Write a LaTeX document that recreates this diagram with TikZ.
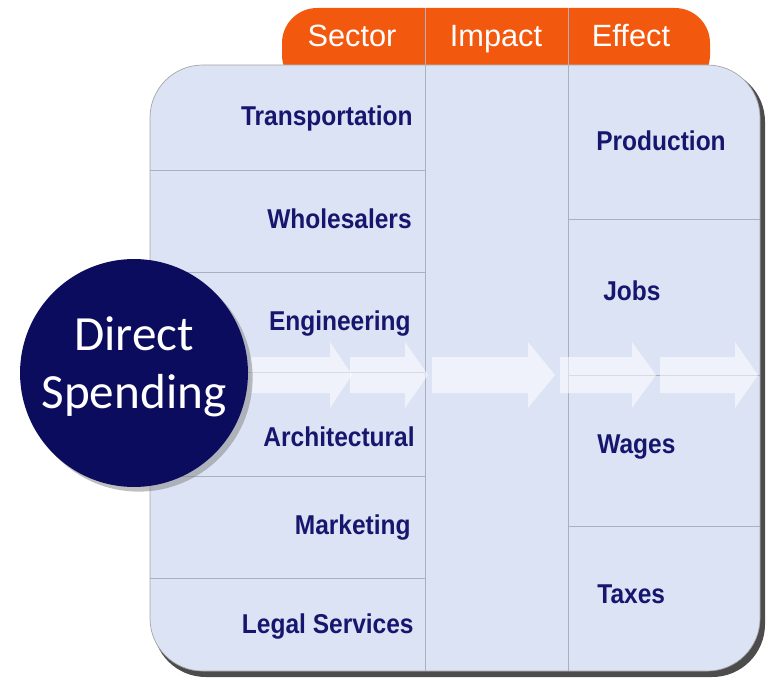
\documentclass[tikz,border=0pt]{standalone}
\usepackage{fontspec}
\setmainfont{Liberation Sans}
\newfontfamily\labelfont[FakeStretch=0.9]{Liberation Sans}
\newfontfamily\circfont{Carlito}
\usepackage{xcolor}
\usetikzlibrary{shadows}
\definecolor{tabred}{HTML}{F2590F}
\definecolor{panelblue}{HTML}{DCE3F4}
\definecolor{navy}{HTML}{0C0C5E}
\definecolor{labelblue}{HTML}{16166E}
\definecolor{gridgray}{HTML}{A9B0BF}

\begin{document}
\begin{tikzpicture}[x=0.02cm,y=-0.02cm,
    sector/.style={anchor=base east,inner sep=0pt,text=labelblue,font=\labelfont\fontsize{15.5}{17}\selectfont\bfseries},
    effect/.style={anchor=base west,inner sep=0pt,text=labelblue,font=\labelfont\fontsize{15.5}{17}\selectfont\bfseries},
    head/.style={anchor=base,inner sep=0pt,text=white,font=\fontsize{17.5}{19}\selectfont}]
    \useasboundingbox (0,0) rectangle (767,679);
    	% header tab
    	\fill [tabred,rounded corners=20] (282,90) -- (282,8) -- (710,8) -- (710,90) -- cycle;
    	% panel
    	\fill [gray!60!black,rounded corners=30] (153,69) rectangle (765,677);
    	\fill [panelblue,rounded corners=30] (150,65) rectangle (760,671);
        \draw [gray!70,rounded corners=30] (150,65) rectangle (760,671);
        % columns and rows
        \draw [gridgray] (425,8) -- (425,671);
        \draw [gridgray] (568,8) -- (568,671);
        \foreach \y in {170,272,372,476,578}
            \draw [gridgray] (150,\y) -- (425,\y);
        \foreach \y in {219,375,526}
            \draw [gridgray] (568,\y) -- (760,\y);
        % arrows
        \foreach \a/\b/\c in {250/330/352,350/405/428,432/528/555,560/632/656,660/735/758}
            \fill [white,opacity=0.55] (\a,357) -- (\b,357) -- (\b,342) -- (\c,375)
                -- (\b,408) -- (\b,393) -- (\a,393) -- cycle;
        \node (sector) [head] at (352,47) {Sector};
        \node (impact) [head] at (496,47) {Impact};
        \node (effect) [head] at (631,47) {Effect};
        \node (transp) [sector] at (413,126) {Transportation};
        \node (whole) [sector] at (412,228) {Wholesalers};
        \node (engin) [sector] at (411,330) {Engineering};
        \node (archi) [sector] at (415,446) {Architectural};
        \node (market) [sector] at (411,534) {Marketing};
        \node (legal) [sector] at (414,633) {Legal Services};
        \node (prod) [effect] at (596,151) {Production};
        \node (jobs) [effect] at (603,300) {Jobs};
        \node (wages) [effect] at (597,453) {Wages};
        \node (taxes) [effect] at (597,603) {Taxes};
        \node (spend) [circle,fill=navy,minimum size=4.56cm,inner sep=0pt,drop shadow,text=white,align=center,
            text depth=0.4cm,font=\circfont\fontsize{28}{33}\selectfont] at (134,373) {Direct\\Spending};
    \end{tikzpicture}
\end{document}
